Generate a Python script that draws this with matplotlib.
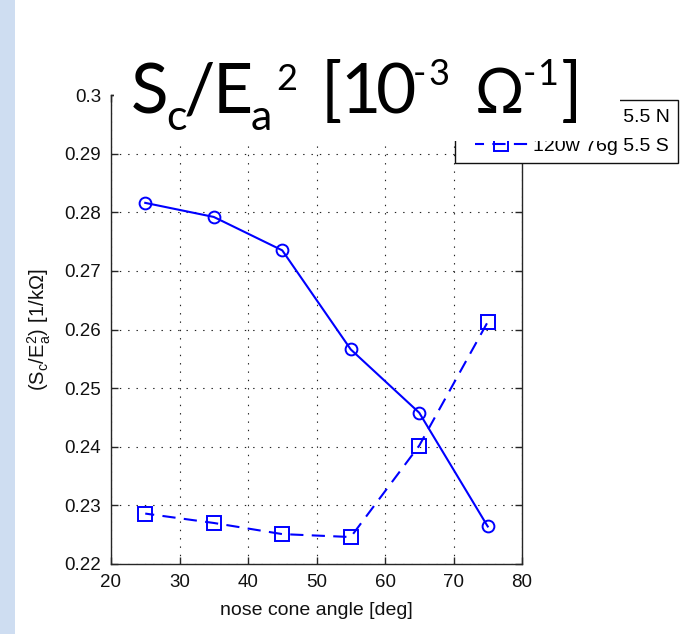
import matplotlib
matplotlib.use("Agg")
import matplotlib.pyplot as plt
from matplotlib.patches import Rectangle
from matplotlib.lines import Line2D
from matplotlib.legend_handler import HandlerLine2D

# ---- data ----
angles = [25, 35, 45, 55, 65, 75]
series_N = [0.2816, 0.2792, 0.2735, 0.2566, 0.2458, 0.2264]
series_S = [0.2286, 0.2270, 0.2251, 0.2246, 0.2402, 0.2613]
label_N = "120w 76g 5.5 N"
label_S = "120w 76g 5.5 S"
xticks = [20, 30, 40, 50, 60, 70, 80]
yticks = [0.22, 0.23, 0.24, 0.25, 0.26, 0.27, 0.28, 0.29, 0.30]
ytick_labels = ["0.22", "0.23", "0.24", "0.25", "0.26", "0.27", "0.28", "0.29", "0.3"]
xlabel = "nose cone angle [deg]"
ylabel = r"$\mathregular{(S_c/E^2_a)\ [1/k\Omega]}$"
# slide title  S_c/E_a^2 [10^-3 Ω^-1], split into (text, role) pieces
title_text = ["S", "c", "/", "E", "a", "2", "[", "1", "0", "-", "3", "Ω", "-", "1", "]"]
title_role = ["main", "sub", "main", "main", "sub", "sup2", "main", "main", "main",
              "sup", "sup", "omega", "sup", "sup", "main"]
# left edge of each title piece, in pixels of the 693x634 slide
title_left = [131, 166, 184, 213, 251, 276, 321, 340, 376, 413, 428, 475, 523, 537, 561]

plt.rcParams["lines.scale_dashes"] = False
plt.rcParams["font.family"] = ["Liberation Sans", "DejaVu Sans"]

W, H = 693, 634
fig = plt.figure(figsize=(W / 100, H / 100), dpi=100)
fig.patch.set_facecolor("white")

ax = fig.add_axes([111 / W, 1 - 564 / H, (522 - 111) / W, (564 - 95) / H])

blue = (0, 0, 1)
ax.plot(angles, series_N, color=blue, lw=1.5, ls="-", marker="o", ms=8.5,
        mfc="none", mec=blue, mew=1.4, label=label_N)
ax.plot(angles, series_S, color=blue, lw=1.5, ls=(3, (9.5, 6)), marker="s", ms=9.5,
        mfc="none", mec=blue, mew=1.4, label=label_S)

ax.set_xlim(20, 80)
ax.set_ylim(0.22, 0.30)
ax.set_xticks(xticks)
ax.set_xticklabels([str(v) for v in xticks])
ax.set_yticks(yticks)
ax.set_yticklabels(ytick_labels)

ax.grid(True, color="#222222", lw=0.8, ls=(0, (1, 5)))
ax.tick_params(direction="in", length=5, width=1, color="#262626",
               top=True, right=True, labelsize=13.5, labelcolor="#111111")
ax.tick_params(axis="y", pad=7)
ax.tick_params(axis="x", pad=7)
for s in ax.spines.values():
    s.set_linewidth(1.0)
    s.set_color("#262626")

ax.set_xlabel(xlabel, fontsize=14, color="#111111", labelpad=8)
ax.set_ylabel(ylabel, fontsize=14.5, color="#111111", labelpad=8)

leg = ax.legend(loc="upper right", bbox_to_anchor=(678 / W, 1 - 100 / H),
                bbox_transform=fig.transFigure, fontsize=14, frameon=True,
                fancybox=False, edgecolor="#111111", framealpha=1,
                borderpad=0.42, labelspacing=0.58, handlelength=3.35,
                handletextpad=0.26, borderaxespad=0, numpoints=1,
                handler_map={Line2D: HandlerLine2D(xpad=0.62)})
leg.get_frame().set_linewidth(1.0)

# slide decoration: left blue band and white title box
fig.add_artist(Rectangle((0, 0), 15 / W, 1, transform=fig.transFigure,
                         facecolor="#CEDDF1", edgecolor="none", zorder=5))
fig.add_artist(Rectangle((114 / W, 1 - 141 / H), (620 - 114) / W, 141 / H,
                         transform=fig.transFigure, facecolor="white",
                         edgecolor="none", zorder=5))

sizes = {"main": 50, "sub": 31, "sup": 26, "sup2": 26, "omega": 44}
baselines = {"main": 113, "sub": 130, "sup": 85, "sup2": 90, "omega": 113}
for txt, role, xl in zip(title_text, title_role, title_left):
    fig.text(xl / W, 1 - baselines[role] / H, txt, fontsize=sizes[role],
             family=["Lato", "DejaVu Sans"], color="black",
             ha="left", va="baseline", zorder=6)

fig.savefig("out.png", dpi=100)
